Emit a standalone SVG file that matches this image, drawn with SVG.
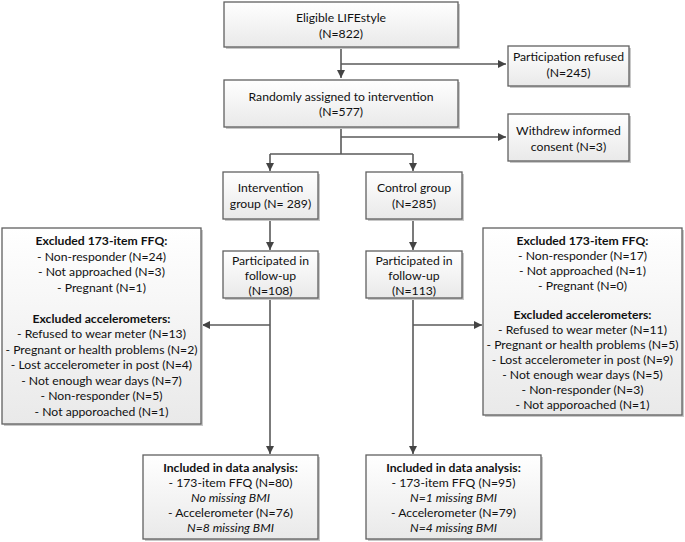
<svg xmlns="http://www.w3.org/2000/svg" width="685" height="542" viewBox="0 0 685 542">
<defs>
<linearGradient id="g" x1="0" y1="0" x2="0" y2="1">
<stop offset="0" stop-color="#ffffff"/>
<stop offset="1" stop-color="#e9e9e9"/>
</linearGradient>
<marker id="a" markerWidth="10" markerHeight="10" refX="8" refY="4" orient="auto" markerUnits="userSpaceOnUse">
<path d="M0,0 L8,4 L0,8 Z" fill="#444"/>
</marker>
</defs>
<style>
.b{fill:url(#g);stroke:#606060;stroke-width:1.3}
.s{fill:#c8c8c8}
text{font-family:Lato,"Liberation Sans",sans-serif;font-size:12.2px;fill:#111;text-anchor:middle}
.h{font-weight:bold}
.i{font-style:italic}
.c{fill:none;stroke:#5a5a5a;stroke-width:1.6}
</style>
<rect width="685" height="542" fill="#fff"/>
<g id="connectors">
<path class="c" d="M341,47 V78" marker-end="url(#a)"/>
<path class="c" d="M341,64 H506" marker-end="url(#a)"/>
<path class="c" d="M341,127 V154"/>
<path class="c" d="M341,137 H506" marker-end="url(#a)"/>
<path class="c" d="M270,154 H413"/>
<path class="c" d="M270,154 V171" marker-end="url(#a)"/>
<path class="c" d="M413,154 V171" marker-end="url(#a)"/>
<path class="c" d="M270,219 V250" marker-end="url(#a)"/>
<path class="c" d="M413,219 V250" marker-end="url(#a)"/>
<path class="c" d="M270,298 V454" marker-end="url(#a)"/>
<path class="c" d="M413,298 V454" marker-end="url(#a)"/>
<path class="c" d="M270,325 H202" marker-end="url(#a)"/>
<path class="c" d="M413,325 H482" marker-end="url(#a)"/>
</g>
<g id="eligible">
<rect class="s" x="226" y="4" width="234" height="45"/>
<rect class="b" x="224" y="2" width="234" height="45"/>
<text x="341" y="22">Eligible LIFEstyle</text>
<text x="341" y="38">(N=822)</text>
</g>
<g id="refused">
<rect class="s" x="510" y="48" width="121" height="40"/>
<rect class="b" x="508" y="46" width="121" height="40"/>
<text x="568.5" y="61">Participation refused</text>
<text x="568.5" y="77">(N=245)</text>
</g>
<g id="randomly">
<rect class="s" x="226" y="82" width="234" height="47"/>
<rect class="b" x="224" y="80" width="234" height="47"/>
<text x="341" y="101">Randomly assigned to intervention</text>
<text x="341" y="116">(N=577)</text>
</g>
<g id="withdrew">
<rect class="s" x="510" y="116" width="121" height="47"/>
<rect class="b" x="508" y="114" width="121" height="47"/>
<text x="568.5" y="135">Withdrew informed</text>
<text x="568.5" y="151">consent (N=3)</text>
</g>
<g id="intervention">
<rect class="s" x="225" y="174" width="95" height="47"/>
<rect class="b" x="223" y="172" width="95" height="47"/>
<text x="270.5" y="192">Intervention</text>
<text x="270.5" y="208">group (N= 289)</text>
</g>
<g id="control">
<rect class="s" x="368" y="174" width="96" height="47"/>
<rect class="b" x="366" y="172" width="96" height="47"/>
<text x="414" y="192">Control group</text>
<text x="414" y="208">(N=285)</text>
</g>
<g id="participated-intervention">
<rect class="s" x="225" y="253" width="95" height="47"/>
<rect class="b" x="223" y="251" width="95" height="47"/>
<text x="270.5" y="265">Participated in</text>
<text x="270.5" y="280">follow-up</text>
<text x="270.5" y="295">(N=108)</text>
</g>
<g id="participated-control">
<rect class="s" x="368" y="253" width="96" height="47"/>
<rect class="b" x="366" y="251" width="96" height="47"/>
<text x="414" y="265">Participated in</text>
<text x="414" y="280">follow-up</text>
<text x="414" y="295">(N=113)</text>
</g>
<g id="excluded-intervention">
<rect class="s" x="4" y="230" width="199" height="196"/>
<rect class="b" x="2" y="228" width="199" height="196"/>
<text x="101.5" y="245" class="h">Excluded 173-item FFQ:</text>
<text x="101.5" y="261">- Non-responder (N=24)</text>
<text x="101.5" y="276">- Not approached (N=3)</text>
<text x="101.5" y="292">- Pregnant (N=1)</text>
<text x="101.5" y="323" class="h">Excluded accelerometers:</text>
<text x="101.5" y="338">- Refused to wear meter (N=13)</text>
<text x="101.5" y="354">- Pregnant or health problems (N=2)</text>
<text x="101.5" y="369">- Lost accelerometer in post (N=4)</text>
<text x="101.5" y="385">- Not enough wear days (N=7)</text>
<text x="101.5" y="400">- Non-responder (N=5)</text>
<text x="101.5" y="416">- Not apporoached (N=1)</text>
</g>
<g id="excluded-control">
<rect class="s" x="485" y="230" width="199" height="187"/>
<rect class="b" x="483" y="228" width="199" height="187"/>
<text x="582.5" y="245" class="h">Excluded 173-item FFQ:</text>
<text x="582.5" y="260">- Non-responder (N=17)</text>
<text x="582.5" y="275">- Not approached (N=1)</text>
<text x="582.5" y="290">- Pregnant (N=0)</text>
<text x="582.5" y="319" class="h">Excluded accelerometers:</text>
<text x="582.5" y="334">- Refused to wear meter (N=11)</text>
<text x="582.5" y="349">- Pregnant or health problems (N=5)</text>
<text x="582.5" y="364">- Lost accelerometer in post (N=9)</text>
<text x="582.5" y="379">- Not enough wear days (N=5)</text>
<text x="582.5" y="394">- Non-responder (N=3)</text>
<text x="582.5" y="409">- Not apporoached (N=1)</text>
</g>
<g id="included-intervention">
<rect class="s" x="145" y="457" width="175" height="84"/>
<rect class="b" x="143" y="455" width="175" height="84"/>
<text x="230.5" y="472" class="h">Included in data analysis:</text>
<text x="230.5" y="487">- 173-item FFQ (N=80)</text>
<text x="230.5" y="502" class="i">No missing BMI</text>
<text x="230.5" y="517">- Accelerometer (N=76)</text>
<text x="230.5" y="532" class="i">N=8 missing BMI</text>
</g>
<g id="included-control">
<rect class="s" x="368" y="457" width="175" height="84"/>
<rect class="b" x="366" y="455" width="175" height="84"/>
<text x="453.5" y="472" class="h">Included in data analysis:</text>
<text x="453.5" y="487">- 173-item FFQ (N=95)</text>
<text x="453.5" y="502" class="i">N=1 missing BMI</text>
<text x="453.5" y="517">- Accelerometer (N=79)</text>
<text x="453.5" y="532" class="i">N=4 missing BMI</text>
</g>
</svg>
